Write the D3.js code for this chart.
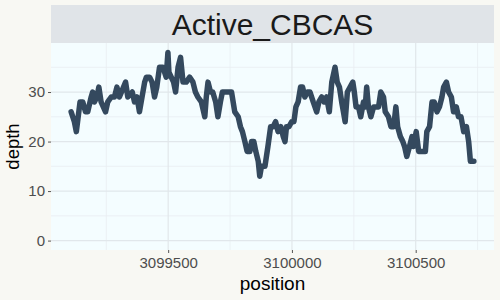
<!DOCTYPE html>
<html>
<head>
<meta charset="utf-8">
<script src="https://cdn.jsdelivr.net/npm/d3@7"></script>
<style>
  body { margin: 0; background: #f8f8f3; }
  text { font-family: "Liberation Sans", Arial, sans-serif; }
</style>
</head>
<body>
<svg id="mainSvg"></svg>
<script>
var WIDTH = 500;
var HEIGHT = 300;
var PANEL = { left: 51, right: 494, top: 43, bottom: 250 };
var STRIP_TOP = 5;
var TITLE = "Active_CBCAS";

// coverage depth
var positions = [
  3099108, 3099121, 3099129, 3099144, 3099155, 3099166, 3099175, 3099189, 3099195, 3099202,
  3099212, 3099220, 3099229, 3099247, 3099256, 3099270, 3099283, 3099293, 3099303, 3099328,
  3099337, 3099355, 3099364, 3099374, 3099384, 3099405, 3099412, 3099425, 3099435, 3099445,
  3099454, 3099465, 3099479, 3099492, 3099499, 3099503, 3099522, 3099530, 3099540, 3099550,
  3099560, 3099573, 3099587, 3099600, 3099610, 3099620, 3099634, 3099648, 3099654, 3099661,
  3099671, 3099680, 3099692, 3099701, 3099711, 3099719, 3099735, 3099756, 3099769, 3099783,
  3099792, 3099800, 3099810, 3099819, 3099830, 3099837, 3099846, 3099854, 3099864, 3099870,
  3099877, 3099891, 3099903, 3099914, 3099924, 3099934, 3099944, 3099955, 3099965, 3099972,
  3099978, 3099988, 3099999, 3100008, 3100016, 3100025, 3100035, 3100043, 3100052, 3100062,
  3100073, 3100086, 3100100, 3100109, 3100120, 3100130, 3100140, 3100151, 3100161, 3100174,
  3100183, 3100192, 3100201, 3100208, 3100215, 3100224, 3100235, 3100246, 3100252, 3100259,
  3100269, 3100278, 3100289, 3100296, 3100302, 3100309, 3100319, 3100330, 3100340, 3100350,
  3100359, 3100370, 3100377, 3100390, 3100400, 3100411, 3100420, 3100427, 3100438, 3100448,
  3100455, 3100464, 3100475, 3100485, 3100491, 3100502, 3100512, 3100521, 3100539, 3100545,
  3100556, 3100566, 3100575, 3100586, 3100596, 3100606, 3100613, 3100624, 3100633, 3100644,
  3100653, 3100664, 3100673, 3100683, 3100694, 3100705, 3100714, 3100721, 3100735
];
var depths = [
  26, 24, 22, 28, 28, 26, 26, 29, 30, 28,
  29, 31, 28, 26, 28, 29, 29, 31, 29, 32,
  29, 30, 28, 29, 26, 32, 33, 33, 32, 29,
  31, 35, 35, 33, 38, 34, 32, 30, 35, 37,
  32, 32, 33, 32, 30, 29, 28, 25, 29, 32,
  30, 30, 28, 25, 28, 30, 30, 30, 26, 25,
  23, 22, 20, 18, 18, 20, 20, 18, 16, 13,
  15, 15, 19, 23, 23, 24, 22, 23, 21, 20,
  23, 23, 24, 24, 27, 28, 31, 31, 29, 30,
  30, 28, 26, 28, 29, 28, 29, 26, 32, 35,
  32, 31, 28, 26, 24, 30, 31, 32, 30, 27,
  27, 25, 28, 27, 31, 27, 25, 27, 27, 27,
  30, 29, 26, 25, 23, 23, 27, 23, 21, 20,
  19, 17, 19, 21, 19, 22, 18, 18, 18, 22,
  23, 28, 28, 26, 27, 29, 31, 32, 30, 29,
  26, 27, 25, 25, 22, 23, 20, 16, 16
];
var xTicks = [3099500, 3100000, 3100500];
var xMinor = [3099250, 3099750, 3100250, 3100750];
var yTicks = [0, 10, 20, 30];
var yMinor = [5, 15, 25, 35];

function expand(lo, hi) {
  var pad = (hi - lo) * 0.05;
  return [lo - pad, hi + pad];
}

function render() {
  var svg = d3.select("#mainSvg")
    .attr("width", WIDTH)
    .attr("height", HEIGHT);

  var x = d3.scaleLinear()
    .domain(expand(d3.min(positions), d3.max(positions)))
    .range([PANEL.left, PANEL.right]);
  var y = d3.scaleLinear()
    .domain(expand(0, d3.max(depths)))
    .range([PANEL.bottom, PANEL.top]);

  svg.append("rect")
    .attr("x", PANEL.left).attr("y", PANEL.top)
    .attr("width", PANEL.right - PANEL.left)
    .attr("height", PANEL.bottom - PANEL.top)
    .attr("fill", "#f4fdff");

  // grid
  var grid = svg.append("g");
  grid.selectAll(".ymin").data(yMinor).enter().append("line")
    .attr("x1", PANEL.left).attr("x2", PANEL.right)
    .attr("y1", y).attr("y2", y)
    .attr("stroke", "#e8eef1").attr("stroke-width", 0.8);
  grid.selectAll(".xmin").data(xMinor).enter().append("line")
    .attr("x1", x).attr("x2", x)
    .attr("y1", PANEL.top).attr("y2", PANEL.bottom)
    .attr("stroke", "#e8eef1").attr("stroke-width", 0.8);
  grid.selectAll(".ymaj").data(yTicks).enter().append("line")
    .attr("x1", PANEL.left).attr("x2", PANEL.right)
    .attr("y1", y).attr("y2", y)
    .attr("stroke", "#e1e7eb").attr("stroke-width", 1.2);
  grid.selectAll(".xmaj").data(xTicks).enter().append("line")
    .attr("x1", x).attr("x2", x)
    .attr("y1", PANEL.top).attr("y2", PANEL.bottom)
    .attr("stroke", "#e1e7eb").attr("stroke-width", 1.2);

  // depth line
  var pts = positions.map(function (p, i) { return [p, depths[i]]; });
  var line = d3.line()
    .x(function (d) { return x(d[0]); })
    .y(function (d) { return y(d[1]); });
  svg.append("path")
    .datum(pts)
    .attr("d", line)
    .attr("fill", "none")
    .attr("stroke", "#34495e")
    .attr("stroke-width", 5.5)
    .attr("stroke-linejoin", "round")
    .attr("stroke-linecap", "round");

  // axes
  var xAxis = svg.append("g")
    .attr("transform", "translate(0," + PANEL.bottom + ")")
    .call(d3.axisBottom(x).tickValues(xTicks).tickFormat(d3.format("d"))
      .tickSize(3).tickPadding(4.5));
  var yAxis = svg.append("g")
    .attr("transform", "translate(" + PANEL.left + ",0)")
    .call(d3.axisLeft(y).tickValues(yTicks).tickSize(3).tickPadding(3));
  [xAxis, yAxis].forEach(function (a) {
    a.select(".domain").remove();
    a.selectAll(".tick line").attr("stroke", "#555").attr("stroke-width", 1);
    a.selectAll(".tick text")
      .attr("fill", "#4d4d4d")
      .style("font-size", "15px")
      .style("font-family", "Liberation Sans, Arial, sans-serif");
  });

  // strip
  svg.append("rect")
    .attr("x", PANEL.left).attr("y", STRIP_TOP)
    .attr("width", PANEL.right - PANEL.left)
    .attr("height", PANEL.top - STRIP_TOP)
    .attr("fill", "#e0e4e8");
  svg.append("text")
    .attr("x", (PANEL.left + PANEL.right) / 2)
    .attr("y", 35)
    .attr("text-anchor", "middle")
    .attr("fill", "#1a1a1a")
    .style("font-size", "30px")
    .text(TITLE);

  // axis titles
  svg.append("text")
    .attr("x", (PANEL.left + PANEL.right) / 2)
    .attr("y", 290)
    .attr("text-anchor", "middle")
    .style("font-size", "19px")
    .text("position");
  svg.append("text")
    .attr("transform", "translate(19," + (PANEL.top + PANEL.bottom) / 2 + ") rotate(-90)")
    .attr("text-anchor", "middle")
    .style("font-size", "18.5px")
    .text("depth");
}

render();
</script>
</body>
</html>
